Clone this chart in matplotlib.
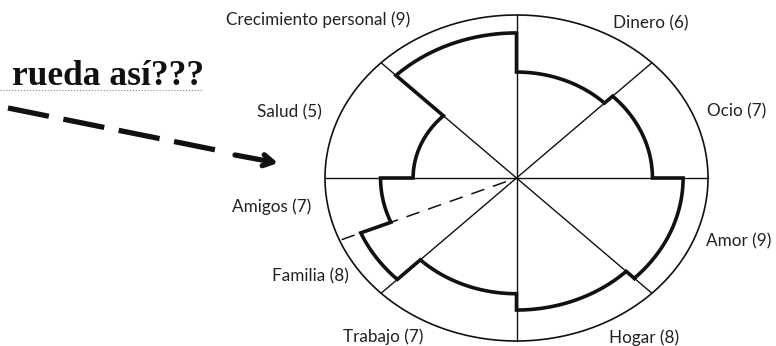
import numpy as np
import matplotlib
matplotlib.use('Agg')
import matplotlib.pyplot as plt

# areas of the wheel, counter-clockwise starting at the lower right
areas = ['Amor', 'Ocio', 'Dinero', 'Crecimiento personal', 'Salud',
         'Amigos', 'Familia', 'Trabajo', 'Hogar']
scores = [9, 7, 6, 9, 5, 7, 8, 7, 8]
# sector limits in degrees (start, end)
starts = [-45, 0, 45, 90, 135, 180, 202.5, 225, 270]
ends = [0, 45, 90, 135, 180, 202.5, 225, 270, 315]
# arc level as drawn in the picture (share of the outer radius)
levels = [0.87, 0.71, 0.65, 0.89, 0.54, 0.71, 0.88, 0.71, 0.81]

# label anchor points in pixels of the picture
label_x = [706, 707, 651, 318, 289, 272, 310, 383, 644]
label_y = [241, 111, 23, 20, 112, 207, 276, 337, 338]
label_ha = ['left', 'left', 'center', 'center', 'center', 'center', 'center', 'center', 'center']

title = 'rueda así???'

W, H = 776, 346
fig = plt.figure(figsize=(W / 100, H / 100), dpi=100)
fig.patch.set_facecolor('white')

# overlay in pixel coordinates for the texts and the arrow
over = fig.add_axes([0, 0, 1, 1])
over.set_xlim(0, W)
over.set_ylim(H, 0)
over.axis('off')

# wheel axes: a unit circle that gets squashed into an ellipse
cx, cy, rx, ry = 516.5, 178, 191.5, 163
wheel = fig.add_axes([(cx - rx) / W, (H - cy - ry) / H, 2 * rx / W, 2 * ry / H])
wheel.set_xlim(-1, 1)
wheel.set_ylim(-1, 1)
wheel.axis('off')
wheel.patch.set_alpha(0)

ink = '#111111'
t = np.linspace(0, 2 * np.pi, 400)
wheel.plot(np.cos(t), np.sin(t), color=ink, lw=1.2, clip_on=False)
for a in [0, 45, 90, 135]:
    r = np.radians(a)
    wheel.plot([-np.cos(r), np.cos(r)], [-np.sin(r), np.sin(r)], color=ink, lw=1.0, clip_on=False)

# dashed split between Amigos and Familia
r = np.radians(202.5)
wheel.plot([0.06 * np.cos(r), np.cos(r)], [0.06 * np.sin(r), np.sin(r)], color=ink, lw=1.1,
           dashes=(9, 6), clip_on=False)

# thick outline of the scores
xs, ys = [], []
for s, e, lv in zip(starts, ends, levels):
    th = np.radians(np.linspace(s, e, 60))
    xs.extend(lv * np.cos(th))
    ys.extend(lv * np.sin(th))
xs.append(xs[0])
ys.append(ys[0])
wheel.plot(xs, ys, color=ink, lw=2.6, solid_joinstyle='miter', clip_on=False)

for name, sc, x, y, ha in zip(areas, scores, label_x, label_y, label_ha):
    over.text(x, y, f'{name} ({sc})', ha=ha, va='center', fontsize=12.3,
              family='Lato', color='#222222')

# "rueda así???" with dotted underline
over.text(12, 85, title, ha='left', va='baseline', fontsize=25.5, fontweight='bold',
          family='Liberation Serif', color='#111111')
over.plot([0, 203], [90, 90], color='#888888', lw=0.8, linestyle=':')

# dashed arrow towards the wheel
over.plot([8, 221], [108, 151], color='#111111', lw=3.8, dashes=(7.9, 2.8),
          dash_capstyle='butt')
over.annotate('', xy=(278, 163), xytext=(235, 155),
              arrowprops=dict(arrowstyle='->,head_length=0.7,head_width=0.4', color='#111111',
                              lw=3.8, shrinkA=0, shrinkB=0))

fig.savefig('out.png', dpi=100, facecolor='white')
